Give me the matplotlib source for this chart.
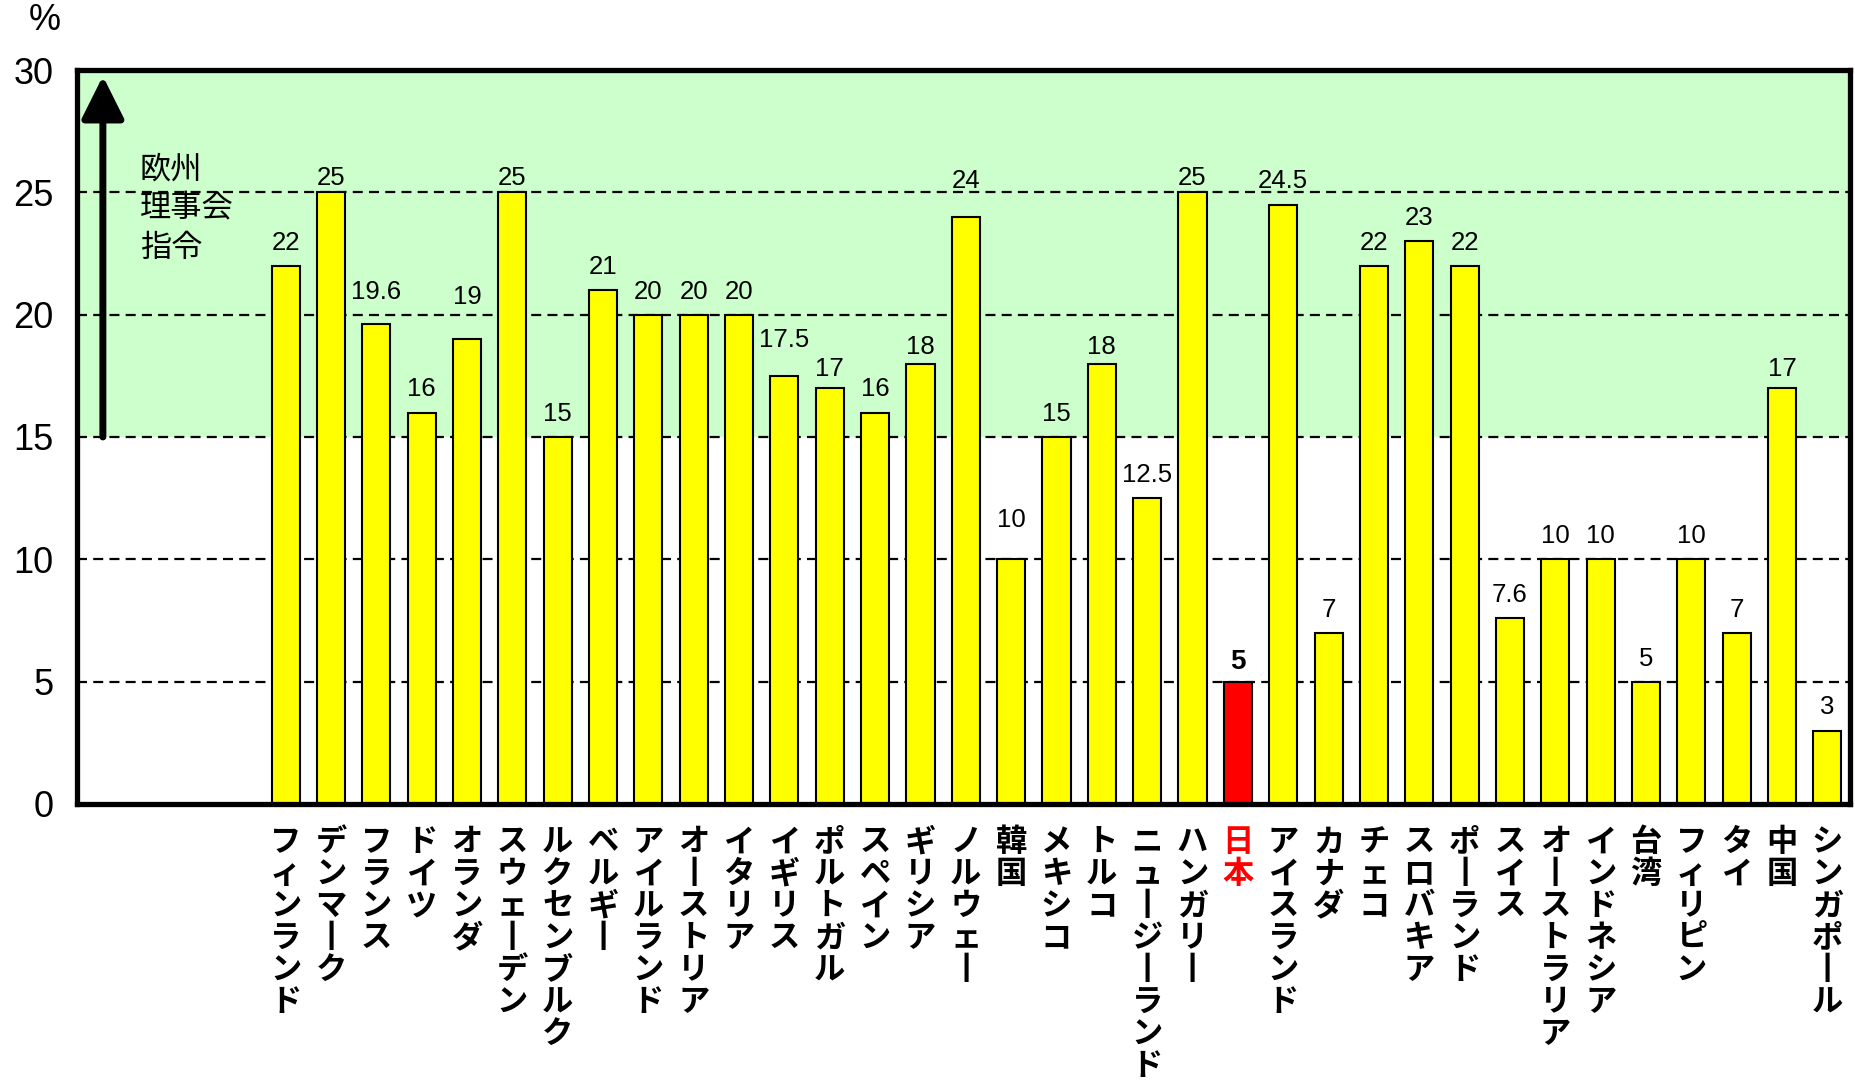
import matplotlib
matplotlib.use("Agg")
import matplotlib.pyplot as plt
from matplotlib.patches import Rectangle, ArrowStyle

plt.rcParams['font.family'] = ['Liberation Sans', 'Noto Sans CJK JP', 'DejaVu Sans']

countries = ["フィンランド", "デンマーク", "フランス", "ドイツ", "オランダ", "スウェーデン",
             "ルクセンブルク", "ベルギー", "アイルランド", "オーストリア", "イタリア", "イギリス",
             "ポルトガル", "スペイン", "ギリシア", "ノルウェー", "韓国", "メキシコ", "トルコ",
             "ニュージーランド", "ハンガリー", "日本", "アイスランド", "カナダ", "チェコ",
             "スロバキア", "ポーランド", "スイス", "オーストラリア", "インドネシア", "台湾",
             "フィリピン", "タイ", "中国", "シンガポール"]
values = [22, 25, 19.6, 16, 19, 25, 15, 21, 20, 20, 20, 17.5, 17, 16, 18, 24, 10, 15, 18,
          12.5, 25, 5, 24.5, 7, 22, 23, 22, 7.6, 10, 10, 5, 10, 7, 17, 3]
value_labels = ["22", "25", "19.6", "16", "19", "25", "15", "21", "20", "20", "20", "17.5",
                "17", "16", "18", "24", "10", "15", "18", "12.5", "25", "5", "24.5", "7",
                "22", "23", "22", "7.6", "10", "10", "5", "10", "7", "17", "3"]
highlight = "日本"
yticks = [0, 5, 10, 15, 20, 25, 30]
eu_range = (15, 30)
eu_label = "欧州\n理事会\n指令"
unit_label = "%"

# extra vertical nudges (points) of some value labels, as placed in the original
label_nudge = {"19.6": 7, "19": 14, "17.5": 9, "24": 9, "25": -6, "18": -5, "17": -3}

fig = plt.figure(figsize=(18.56, 10.87), dpi=100)
ax = fig.add_axes([0.0415, 0.2604, 0.9553, 0.6752])

x = list(range(len(countries)))
ax.set_xlim(-4.6, len(countries) - 0.5)
ax.set_ylim(0, 30)

# green EU range band
ax.add_patch(Rectangle((-4.6, eu_range[0]), len(countries) + 4.1, eu_range[1] - eu_range[0],
                       facecolor='#CCFFCC', edgecolor='none', zorder=0))

# dashed grid lines
for yv in yticks[1:-1]:
    ax.axhline(yv, color='black', lw=1.6, dashes=(4.5, 2.8), zorder=1)

colors = ['#FF0000' if c == highlight else '#FFFF00' for c in countries]
ax.bar(x, values, width=0.62, color=colors, edgecolor='black', lw=1.5, zorder=3)

for xi, v, lab, c in zip(x, values, value_labels, countries):
    if c == highlight:
        ax.annotate(lab, (xi, v), xytext=(0, 5), textcoords='offset points',
                    ha='center', va='bottom', fontsize=20, fontweight='bold', zorder=4)
    else:
        nudge = label_nudge.get(lab, 0) if c != "韓国" else 12
        ax.annotate(lab, (xi, v), xytext=(0, 8 + nudge), textcoords='offset points',
                    ha='center', va='bottom', fontsize=18.5, zorder=4)

# vertical category labels (long vowel mark drawn upright as in vertical writing)
def vertical(s):
    return "\n".join("丨" if ch == "ー" else ch for ch in s)

ax.set_xticks([])
for xi, c in zip(x, countries):
    ax.annotate(vertical(c), (xi, 0), xytext=(0, -16), textcoords='offset points',
                ha='center', va='top', fontsize=22.5, fontweight='bold',
                family=['Noto Sans CJK JP', 'DejaVu Sans'], linespacing=1.0,
                color='#FF0000' if c == highlight else 'black', annotation_clip=False)

ax.set_yticks(yticks)
ax.tick_params(axis='y', length=0, pad=17, labelsize=26)

for sp in ax.spines.values():
    sp.set_linewidth(3.8)
    sp.set_zorder(5)

# arrow for EU directive
ax.annotate('', xy=(-4.03, 29.75), xytext=(-4.03, eu_range[0]),
            arrowprops=dict(arrowstyle=ArrowStyle('-|>', head_length=1.0, head_width=0.5),
                            mutation_scale=26, lw=5, color='black', shrinkA=0, shrinkB=0),
            zorder=4)
ax.text(-3.22, 26.6, eu_label, ha='left', va='top', fontsize=22.5,
        family=['Noto Sans CJK JP', 'DejaVu Sans'], linespacing=1.3, zorder=4)

fig.text(45 / 1856, 1 - 20 / 1087, unit_label, ha='center', va='center', fontsize=26)

fig.savefig("out.png", dpi=100)
